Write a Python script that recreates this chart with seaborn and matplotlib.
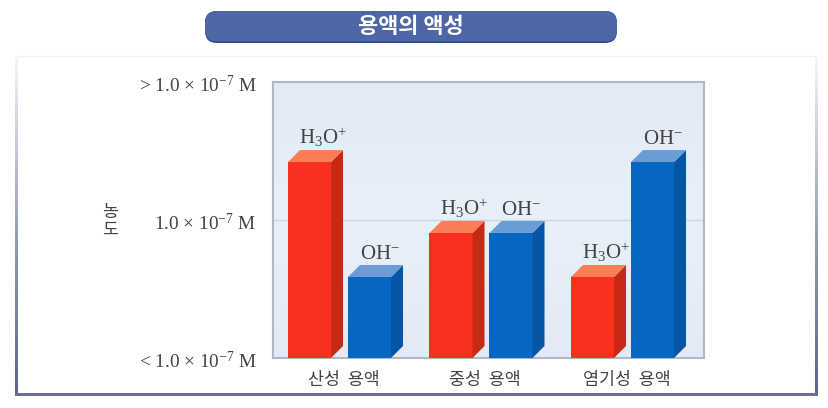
import numpy as np
import pandas as pd
import matplotlib
matplotlib.use('Agg')
import matplotlib.pyplot as plt
from matplotlib.colors import LinearSegmentedColormap
from matplotlib.patches import FancyBboxPatch, Polygon, Rectangle
from matplotlib.transforms import ScaledTranslation
import seaborn as sns

categories = ['산성  용액', '중성  용액', '염기성  용액']
ions = ['H3O+', 'OH-']
h3o_values = [1.42, 0.906, 0.587]
oh_values = [0.587, 0.906, 1.42]
ion_labels = {'H3O+': r'H$_{3}$O$^{+}$', 'OH-': r'OH$^{-}$'}
y_ticks = [0, 1, 2]
y_tick_labels = [r'< 1.0 × 10$^{-7}$ M', r'1.0 × 10$^{-7}$ M', r'> 1.0 × 10$^{-7}$ M']
title = '용액의 액성'
y_label = '농\n도'

front = {'H3O+': '#fb2f1e', 'OH-': '#0567c1'}
side = {'H3O+': '#c62a14', 'OH-': '#0556a4'}
top = {'H3O+': '#fb7d55', 'OH-': '#6c9cd8'}
label_shift = {'H3O+': 7, 'OH-': 4}

sns.set_theme(style='white')
plt.rcParams['font.family'] = ['Noto Sans CJK KR', 'DejaVu Sans']
plt.rcParams['mathtext.fontset'] = 'custom'
plt.rcParams['mathtext.rm'] = 'Liberation Serif'
plt.rcParams['mathtext.it'] = 'Liberation Serif'
plt.rcParams['mathtext.default'] = 'rm'

W, H = 829, 408
fig = plt.figure(figsize=(W / 100, H / 100), dpi=100, facecolor='white')

# page layer in pixel coordinates, y pointing down
bg = fig.add_axes([0, 0, 1, 1], zorder=0)
bg.axis('off')

# title pill
bg.add_patch(FancyBboxPatch((205, 11), 412, 32, boxstyle='round,pad=0,rounding_size=12',
                            fc='#2f4a8a', ec='none'))
bg.add_patch(FancyBboxPatch((205, 11), 412, 30.5, boxstyle='round,pad=0,rounding_size=12',
                            fc='#4c66a6', ec='none'))
bg.text(411, 26.5, title, color='white', fontsize=15.8, fontweight='bold', ha='center', va='center')

# panel edges fade from light at the top to dark at the bottom
fade = np.linspace(0, 1, 100).reshape(-1, 1)
cmap = LinearSegmentedColormap.from_list('edge', ['#f4f5f8', '#9aa0b8', '#5d6590'])
bg.imshow(fade, extent=(15, 17.5, 396, 57), cmap=cmap, aspect='auto', origin='upper')
bg.imshow(fade, extent=(815, 817.5, 396, 57), cmap=cmap, aspect='auto', origin='upper')
bg.add_patch(Rectangle((15, 393), 802.5, 2.5, fc='#6a7098', ec='none'))
bg.plot([17, 815], [56, 56], color='#f1f2f5', lw=1)
bg.set_xlim(0, W)
bg.set_ylim(H, 0)

# plot area: x 273..704, y 82..358
L, R, T, B = 273, 704, 82, 358
ax = fig.add_axes([L / W, 1 - B / H, (R - L) / W, (B - T) / H], zorder=1)

df = pd.DataFrame({
    'category': categories * 2,
    'ion': ['H3O+'] * 3 + ['OH-'] * 3,
    'value': h3o_values + oh_values,
})
sns.barplot(data=df, x='category', y='value', hue='ion', hue_order=ions, order=categories,
            palette=front, width=0.848, gap=0.283, saturation=1, linewidth=0,
            legend=False, ax=ax, zorder=3)

x_min, x_max = -0.47, 2.576
x_per_px = (x_max - x_min) / (R - L)
y_per_px = 2 / (B - T)
dx, dy = 12 * x_per_px, 12 * y_per_px

# blue-grey background wash
wash = np.linspace(0, 1, 100).reshape(-1, 1)
wash_cmap = LinearSegmentedColormap.from_list('wash', ['#e3e9f5', '#e8f0f9', '#e3eaf6'])
ax.imshow(wash, extent=(x_min, x_max, 0, 2), cmap=wash_cmap, aspect='auto', origin='upper', zorder=0)
ax.set_xlim(x_min, x_max)
ax.set_ylim(0, 2)
ax.axhline(1, color='#ccd6e4', lw=1, zorder=1)

# extrude each bar into a box
for container, ion in zip(ax.containers, ions):
    for bar in container:
        x0, w, h = bar.get_x(), bar.get_width(), bar.get_height()
        x1 = x0 + w
        ax.add_patch(Polygon([(x1, 0), (x1 + dx, dy), (x1 + dx, h + dy), (x1, h)],
                             fc=side[ion], ec='none', zorder=3))
        ax.add_patch(Polygon([(x0, h), (x0 + dx, h + dy), (x1 + dx, h + dy), (x1, h)],
                             fc=top[ion], ec='none', zorder=3))
        ax.text(x0 + w / 2 + dx / 2 + label_shift[ion] * x_per_px, h + dy + 1 * y_per_px,
                ion_labels[ion], color='#444444', family=['Liberation Serif'],
                fontsize=15, ha='center', va='bottom', zorder=4)

ax.set_yticks(y_ticks)
ax.set_yticklabels(y_tick_labels, fontsize=13.9, color='#444444', family=['Liberation Serif'])
ax.tick_params(axis='y', length=0, pad=12)
ax.tick_params(axis='x', length=0, pad=9, labelsize=12.5, labelcolor='#444444')
ax.set_xlabel('')
ax.set_ylabel('')
# category labels sit a little right of the group centres, value labels a little low
for lab in ax.get_xticklabels():
    lab.set_transform(lab.get_transform() + ScaledTranslation(4 / 100, 0, fig.dpi_scale_trans))
for lab in ax.get_yticklabels():
    lab.set_transform(lab.get_transform() + ScaledTranslation(0, -1.5 / 100, fig.dpi_scale_trans))
for s in ax.spines.values():
    s.set_color('#b4b8c0')
    s.set_linewidth(1.5)

# the axis label is stacked upright, one syllable per line
bg.text(110, 221, y_label, fontsize=12.5, color='#444444', ha='center', va='center', linespacing=0.95)

fig.savefig('out.png', dpi=100)
